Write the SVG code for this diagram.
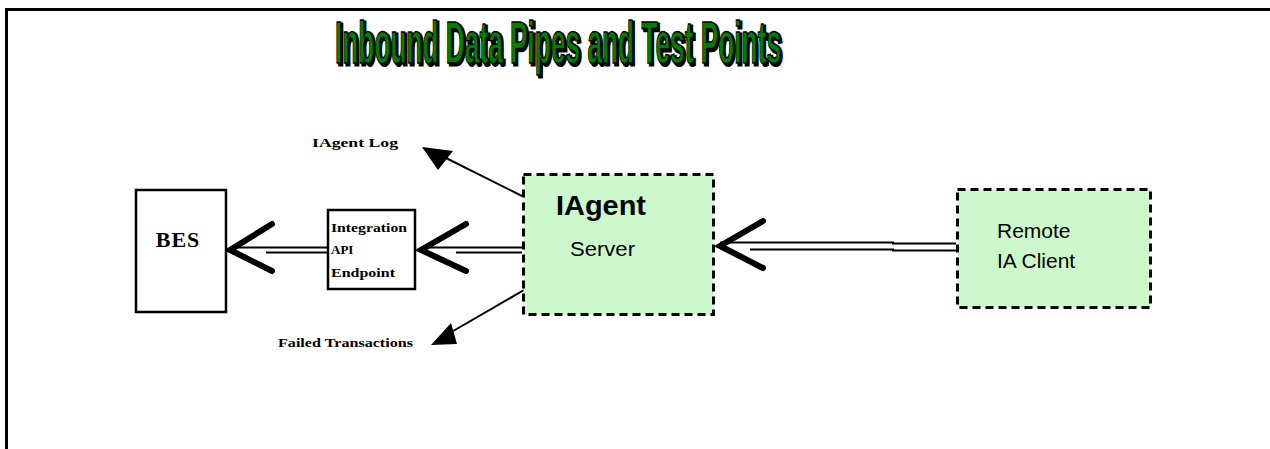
<svg xmlns="http://www.w3.org/2000/svg" width="1270" height="449" viewBox="0 0 1270 449">
<style>
.box{fill:#fff;stroke:#000;stroke-width:2.5}
.gbox{fill:#ccf8cc;stroke:#000;stroke-width:3;stroke-dasharray:8,5}
.serif{font-family:"Liberation Serif",serif;font-weight:bold;fill:#000}
.sans{font-family:"Liberation Sans",Arial,sans-serif;fill:#000}
.ttl{font-family:"Liberation Sans",Arial,sans-serif;font-weight:bold;font-size:27px}
.pipe{stroke:#000;stroke-width:2;fill:none}
.head{stroke:#000;stroke-width:6;fill:none;stroke-linecap:round;stroke-linejoin:miter}
.thin{stroke:#000;stroke-width:2;fill:none}
.tri{fill:#000}
</style>
<rect width="1270" height="449" fill="#fff"/>
<path d="M6.5,449 V9.5 H1270" fill="none" stroke="#000" stroke-width="3"/>
<g id="title">
<text class="ttl" transform="translate(337,65) scale(1,2.2)" x="0" y="0" textLength="446" lengthAdjust="spacingAndGlyphs" fill="#000" stroke="#000" stroke-width="1.4">Inbound Data Pipes and Test Points</text>
<text class="ttl" transform="translate(335,63) scale(1,2.2)" x="0" y="0" textLength="446" lengthAdjust="spacingAndGlyphs" fill="#008000" stroke="#000" stroke-width="0.7">Inbound Data Pipes and Test Points</text>
</g>
<g id="connectors">
<g id="c-int-bes">
<line class="pipe" x1="232" y1="247.5" x2="327" y2="247.5"/>
<line class="pipe" x1="266" y1="252.5" x2="327" y2="252.5"/>
<path class="head" d="M272,224 L230,250 L272,271"/>
</g>
<g id="c-iagent-int">
<line class="pipe" x1="422" y1="247.5" x2="522" y2="247.5"/>
<line class="pipe" x1="456" y1="252.5" x2="522" y2="252.5"/>
<path class="head" d="M466,224 L421,250 L466,271"/>
</g>
<g id="c-remote-iagent">
<path class="pipe" d="M720,242.5 H893 V243.5 H956"/>
<path class="pipe" d="M750,249.5 H893 V250.5 H956"/>
<path class="head" d="M763,221 L720,246 L763,268"/>
</g>
<g id="c-log">
<line class="thin" x1="522" y1="196" x2="440" y2="155"/>
<polygon class="tri" points="422,147 453,151 438,170"/>
</g>
<g id="c-failed">
<line class="thin" x1="524" y1="290" x2="448" y2="334"/>
<polygon class="tri" points="431,345 451,323 457,344"/>
</g>
</g>
<g id="bes">
<rect class="box" x="136" y="190" width="90" height="122"/>
<text x="178" y="247" class="serif" font-size="22" text-anchor="middle" letter-spacing="1">BES</text>
</g>
<g id="integration">
<rect class="box" x="328" y="210" width="87" height="79"/>
<text x="331" y="232" class="serif" font-size="13" textLength="76" lengthAdjust="spacingAndGlyphs">Integration</text>
<text x="331" y="254" class="serif" font-size="13">API</text>
<text x="331" y="277" class="serif" font-size="13" textLength="64" lengthAdjust="spacingAndGlyphs">Endpoint</text>
</g>
<g id="iagent">
<rect class="gbox" x="523.5" y="174.5" width="190" height="140"/>
<text x="556" y="215" class="sans" font-size="28" font-weight="bold" textLength="90" lengthAdjust="spacingAndGlyphs">IAgent</text>
<text x="570" y="256" class="sans" font-size="21" textLength="65" lengthAdjust="spacingAndGlyphs">Server</text>
</g>
<g id="remote">
<rect class="gbox" x="957.5" y="189.5" width="193" height="118"/>
<text x="997" y="238" class="sans" font-size="21">Remote</text>
<text x="997" y="268" class="sans" font-size="21">IA Client</text>
</g>
<g id="log">
<text x="312" y="147" class="serif" font-size="12" textLength="86" lengthAdjust="spacingAndGlyphs">IAgent  Log</text>
</g>
<g id="failed">
<text x="278" y="347" class="serif" font-size="12" textLength="135" lengthAdjust="spacingAndGlyphs">Failed Transactions</text>
</g>
</svg>
